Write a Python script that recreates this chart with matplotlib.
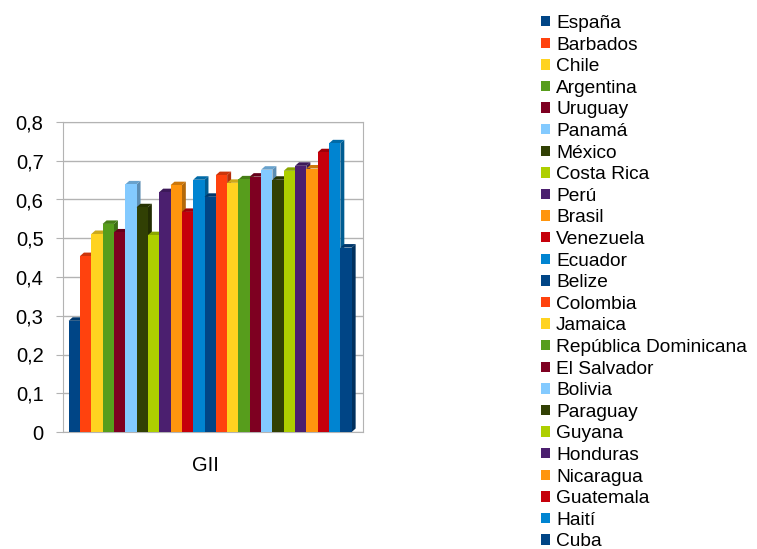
import numpy as np
import matplotlib.pyplot as plt
import matplotlib.colors as mcolors
from matplotlib.patches import Patch

plt.rcParams['font.family'] = ['Liberation Sans', 'DejaVu Sans']

countries = ['España', 'Barbados', 'Chile', 'Argentina', 'Uruguay', 'Panamá', 'México',
             'Costa Rica', 'Perú', 'Brasil', 'Venezuela', 'Ecuador', 'Belize', 'Colombia',
             'Jamaica', 'República Dominicana', 'El Salvador', 'Bolivia', 'Paraguay',
             'Guyana', 'Honduras', 'Nicaragua', 'Guatemala', 'Haití', 'Cuba']
gii = [0.287, 0.454, 0.511, 0.537, 0.515, 0.639, 0.580, 0.508, 0.619, 0.637, 0.568,
       0.651, 0.607, 0.663, 0.643, 0.652, 0.659, 0.677, 0.651, 0.674, 0.687, 0.680,
       0.722, 0.745, 0.476]
palette = ['#004586', '#ff420e', '#ffd320', '#579d1c', '#7e0021', '#83caff',
           '#314004', '#aecf00', '#4b1f6f', '#ff950e', '#c5000b', '#0084d1']
colors = [palette[i % len(palette)] for i in range(len(countries))]


def shade(c, f):
    r, g, b = mcolors.to_rgb(c)
    return (r * f, g * f, b * f)


fig = plt.figure(figsize=(7.57, 5.49), dpi=100)
ax = fig.add_axes([63 / 757, 117 / 549, 300 / 757, 310 / 549])

n = len(countries)
x = np.arange(n)
dx, dy = 0.35, 0.009  # small depth so the bars look like the 3d original
for i in range(n):
    h = gii[i]
    z = 3 + i * 0.01
    ax.fill([x[i] + 1, x[i] + 1 + dx, x[i] + 1 + dx, x[i] + 1], [0, dy, h + dy, h],
            color=shade(colors[i], 0.7), lw=0, zorder=z)
    ax.fill([x[i], x[i] + dx, x[i] + 1 + dx, x[i] + 1], [h, h + dy, h + dy, h],
            color=shade(colors[i], 0.8), lw=0, zorder=z)
    ax.bar(x[i], h, width=1.0, color=colors[i], align='edge', zorder=z + 0.005)

ax.set_xlim(-0.5, n + 1.0)
ax.set_ylim(0, 0.8)
yt = np.arange(0, 0.81, 0.1)
ax.set_yticks(yt)
ax.set_yticklabels([('%.1f' % v).replace('.', ',') if v > 0 else '0' for v in yt], fontsize=14.5)
ax.set_xticks([12.1])
ax.set_xticklabels(['GII'], fontsize=14.5)
ax.tick_params(axis='x', length=0, pad=17)
ax.tick_params(axis='y', length=5, color='#b3b3b3', pad=9)
ax.yaxis.grid(True, color='#b3b3b3', linewidth=1, zorder=0)
for s in ax.spines.values():
    s.set_color('#b3b3b3')

handles = [Patch(facecolor=c, edgecolor='none') for c in colors]
fig.legend(handles, countries, loc='upper left', bbox_to_anchor=(541 / 757, 1 - 15 / 549),
           frameon=False, fontsize=13.8, handlelength=0.47, handleheight=0.47,
           handletextpad=0.32, labelspacing=0.24, borderaxespad=0, borderpad=0)

fig.savefig('out.png', dpi=100)
